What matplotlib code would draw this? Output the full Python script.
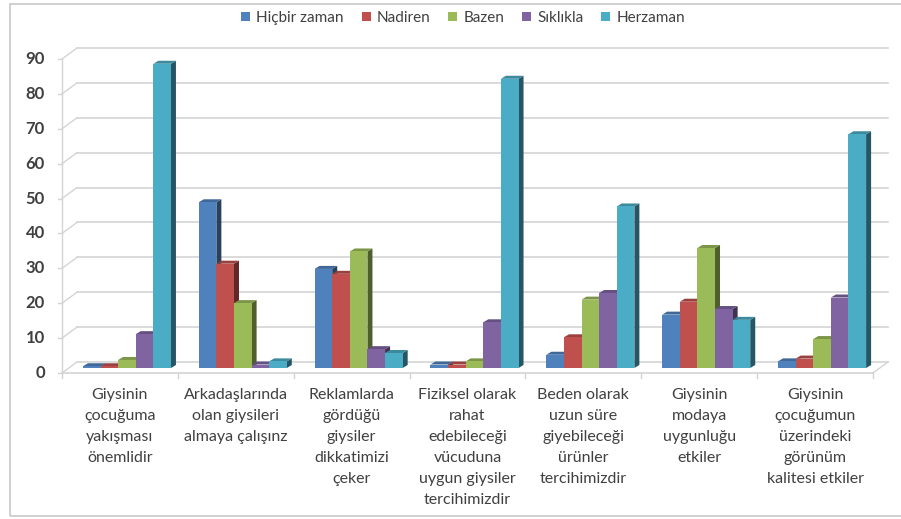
import matplotlib.pyplot as plt
from matplotlib.patches import Polygon, Rectangle
from matplotlib.lines import Line2D
import numpy as np

plt.rcParams['font.family'] = ['Lato', 'DejaVu Sans']

categories = [
    "Giysinin\nçocuğuma\nyakışması\nönemlidir",
    "Arkadaşlarında\nolan giysileri\nalmaya çalışınz",
    "Reklamlarda\ngördüğü\ngiysiler\ndikkatimizi\nçeker",
    "Fiziksel olarak\nrahat\nedebileceği\nvücuduna\nuygun giysiler\ntercihimizdir",
    "Beden olarak\nuzun süre\ngiyebileceği\nürünler\ntercihimizdir",
    "Giysinin\nmodaya\nuygunluğu\netkiler",
    "Giysinin\nçocuğumun\nüzerindeki\ngörünüm\nkalitesi etkiler",
]
series = ["Hiçbir zaman", "Nadiren", "Bazen", "Sıklıkla", "Herzaman"]

hicbir_zaman = [0.5, 47.5, 28.4, 1.0, 3.8, 15.3, 1.9]
nadiren = [0.5, 29.9, 27.0, 1.0, 8.8, 19.0, 2.7]
bazen = [2.3, 18.6, 33.4, 1.9, 19.6, 34.4, 8.3]
siklikla = [9.7, 1.0, 5.4, 13.1, 21.5, 16.9, 20.2]
herzaman = [87.2, 1.9, 4.3, 82.9, 46.3, 13.8, 67.0]
values = [hicbir_zaman, nadiren, bazen, siklikla, herzaman]

colors = ["#4F81BD", "#C0504D", "#9BBB59", "#8064A2", "#4BACC6"]
text_color = "#404040"
grid_color = "#D4D4D4"

W, H = 901, 519
fig = plt.figure(figsize=(W / 100, H / 100), dpi=100)

# outer chart frame
fig.patches.append(Rectangle((10 / W, 3 / H), 1.2, (515 - 3) / H, transform=fig.transFigure,
                             facecolor="none", edgecolor="#C8C8C8", lw=1.2, zorder=0))

# axes = front plane of the 3D box
ax_left, ax_right, y0_px, y90_px = 62, 873, 373, 59
ax = fig.add_axes([ax_left / W, (H - y0_px) / H, (ax_right - ax_left) / W, (y0_px - y90_px) / H])
ncat = len(categories)
ax.set_xlim(0, ncat)
ax.set_ylim(0, 90)
ax.axis("off")

# pixel -> data conversion
sx = ncat / (ax_right - ax_left)
sy = 90 / (y0_px - y90_px)

wall_dx, wall_dy = 15 * sx, 11 * sy
bar_ox, bar_oy = 7 * sx, 5 * sy
bar_dx, bar_dy = 5 * sx, 3 * sy


def shade(c, f):
    r, g, b = [int(c[i:i + 2], 16) / 255 for i in (1, 3, 5)]
    return (r * f, g * f, b * f)


# back wall gridlines and left wall diagonals
ticks = np.arange(0, 91, 10)
for v in ticks:
    ax.add_line(Line2D([wall_dx, ncat + wall_dx], [v + wall_dy, v + wall_dy],
                       color=grid_color, lw=1.2, clip_on=False, zorder=1))
    ax.add_line(Line2D([0, wall_dx], [v, v + wall_dy], color=grid_color, lw=1.0,
                       clip_on=False, zorder=1))
    ax.add_line(Line2D([-4 * sx, 0], [v, v], color=grid_color, lw=1.0, clip_on=False, zorder=1))
    ax.text(-17 * sx, v, str(v), ha="right", va="center", fontsize=12,
            color=text_color, fontweight="bold")

# front y axis and floor
ax.add_line(Line2D([0, 0], [0, 90], color=grid_color, lw=1.0, clip_on=False, zorder=1))
ax.add_line(Line2D([0, ncat], [0, 0], color=grid_color, lw=1.2, clip_on=False, zorder=1))
ax.add_line(Line2D([ncat, ncat + wall_dx], [0, wall_dy], color=grid_color, lw=1.0,
                   clip_on=False, zorder=1))
for i in range(ncat + 1):
    ax.add_line(Line2D([i, i], [0, -5 * sy], color=grid_color, lw=1.0, clip_on=False, zorder=1))

# bars
nser = len(series)
bw = 0.152
for i in range(ncat):
    for j in range(nser):
        h = values[j][i]
        x0 = i + 0.5 + (j - nser / 2) * bw + bar_ox
        x1 = x0 + bw
        yb, yt = bar_oy, bar_oy + h
        c = colors[j]
        side = Polygon([(x1, yb), (x1 + bar_dx, yb + bar_dy), (x1 + bar_dx, yt + bar_dy), (x1, yt)],
                       closed=True, facecolor=shade(c, 0.5), edgecolor="none", zorder=3, clip_on=False)
        top = Polygon([(x0, yt), (x1, yt), (x1 + bar_dx, yt + bar_dy), (x0 + bar_dx, yt + bar_dy)],
                      closed=True, facecolor=shade(c, 0.8), edgecolor="none", zorder=3, clip_on=False)
        front = Rectangle((x0, yb), bw, h, facecolor=c, edgecolor="none", zorder=3, clip_on=False)
        for p in (side, top, front):
            ax.add_patch(p)

# category labels
for i, lab in enumerate(categories):
    ax.text(i + 0.5, -15 * sy, lab, ha="center", va="top", fontsize=11.5,
            color=text_color, linespacing=1.64)

# legend
handles = [Rectangle((0, 0), 1, 1, facecolor=c, edgecolor="none") for c in colors]
fig.legend(handles, series, loc="upper center", bbox_to_anchor=(463 / W, 1 + 3 / H), ncol=5,
           frameon=False, fontsize=11, handlelength=0.6, handleheight=0.6, handletextpad=0.4,
           columnspacing=1.15, labelcolor=text_color)

fig.savefig("out.png", dpi=100)
